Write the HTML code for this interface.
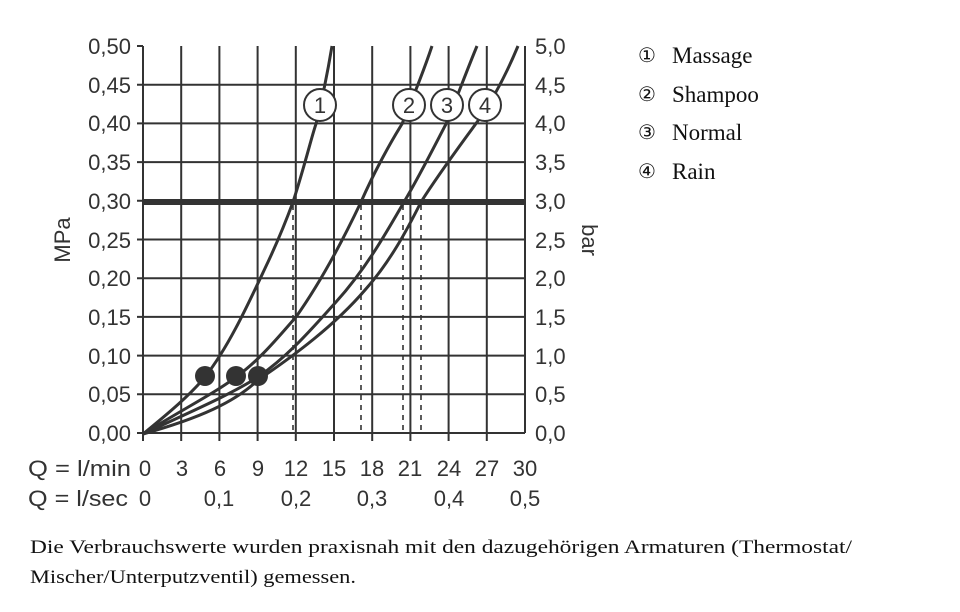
<!DOCTYPE html>
<html><head><meta charset="utf-8"><style>
html,body{margin:0;padding:0;background:#fff;width:960px;height:612px;overflow:hidden}
svg{display:block}
.s{font-family:"Liberation Sans","DejaVu Sans",sans-serif;font-size:22px;fill:#333}
.r{font-family:"Liberation Serif",serif;fill:#111}
</style></head><body>
<svg width="960" height="612" viewBox="0 0 960 612" xmlns="http://www.w3.org/2000/svg">
<g stroke="#333" stroke-width="2" fill="none">
<path d="M181.2 46V441M219.4 46V441M257.6 46V441M295.8 46V441M334 46V441M372.2 46V441M410.4 46V441M448.6 46V441M486.8 46V441"/>
<path d="M137 84.7H525M137 123.4H525M137 162.1H525M137 200.8H525M137 239.5H525M137 278.2H525M137 316.9H525M137 355.6H525M137 394.3H525"/>
<path d="M143 46V441M525 46V433M137 433H525M137 46H143"/>
</g>
<line x1="143" y1="202" x2="525" y2="202" stroke="#333" stroke-width="6"/>
<g stroke="#333" stroke-width="1.6" stroke-dasharray="5,5">
<path d="M293 205V433M361 205V433M403 205V433M421 205V433"/>
</g>
<g stroke="#333" stroke-width="3" fill="none">
<path d="M143 434 C170 412,190 395,205 377 C230 345,250 300,268 262 C282 232,293 202,293 202 C305 165,312 135,316 124 C322 100,328 70,332 46"/>
<path d="M143 434 C185 408,215 393,236 377 C260 360,280 335,296 317 C320 283,343 240,361 202 C375 170,392 140,402 124 C412 100,424 70,432 46"/>
<path d="M143 434 C190 412,230 395,258 377 C290 355,315 325,336 302 C365 270,385 235,404 202 C420 175,435 145,446 124 C456 100,467 70,477 46"/>
<path d="M143 434 C200 418,235 402,258 380 C295 355,335 325,365 290 C390 262,407 230,421 202 C440 172,462 143,480 118 C495 96,508 70,518 46"/>
</g>
<g fill="#333"><circle cx="205" cy="376" r="10"/><circle cx="236" cy="376" r="10"/><circle cx="258" cy="376" r="10"/></g>
<g fill="#fff" stroke="#333" stroke-width="2">
<ellipse cx="320" cy="105" rx="16" ry="16"/><ellipse cx="409" cy="105" rx="16" ry="16"/><ellipse cx="447" cy="105" rx="16" ry="16"/><ellipse cx="485" cy="105" rx="16" ry="16"/>
</g>
<g class="s" text-anchor="middle"><text x="320" y="113">1</text><text x="409" y="113">2</text><text x="447" y="113">3</text><text x="485" y="113">4</text></g>
<g class="s" text-anchor="end">
<text x="131" y="54">0,50</text><text x="131" y="93">0,45</text><text x="131" y="131">0,40</text><text x="131" y="170">0,35</text><text x="131" y="209">0,30</text><text x="131" y="248">0,25</text><text x="131" y="286">0,20</text><text x="131" y="325">0,15</text><text x="131" y="364">0,10</text><text x="131" y="402">0,05</text><text x="131" y="441">0,00</text>
</g>
<g class="s">
<text x="535" y="54">5,0</text><text x="535" y="93">4,5</text><text x="535" y="131">4,0</text><text x="535" y="170">3,5</text><text x="535" y="209">3,0</text><text x="535" y="248">2,5</text><text x="535" y="286">2,0</text><text x="535" y="325">1,5</text><text x="535" y="364">1,0</text><text x="535" y="402">0,5</text><text x="535" y="441">0,0</text>
</g>
<text class="s" transform="translate(70,240) rotate(-90)" text-anchor="middle">MPa</text>
<text class="s" transform="translate(582,240) rotate(90)" text-anchor="middle">bar</text>
<text class="s" x="28" y="476" textLength="103" lengthAdjust="spacingAndGlyphs">Q = l/min</text>
<text class="s" x="28" y="506" textLength="100" lengthAdjust="spacingAndGlyphs">Q = l/sec</text>
<g class="s" text-anchor="middle">
<text x="145" y="476">0</text><text x="182" y="476">3</text><text x="220" y="476">6</text><text x="258" y="476">9</text><text x="296" y="476">12</text><text x="334" y="476">15</text><text x="372" y="476">18</text><text x="410" y="476">21</text><text x="449" y="476">24</text><text x="487" y="476">27</text><text x="525" y="476">30</text>
<text x="145" y="506">0</text><text x="219" y="506">0,1</text><text x="296" y="506">0,2</text><text x="372" y="506">0,3</text><text x="449" y="506">0,4</text><text x="525" y="506">0,5</text>
</g>
<g class="r" font-size="20">
<text x="638" y="62">①</text><text x="638" y="101">②</text><text x="638" y="139">③</text><text x="638" y="178">④</text>
</g>
<g class="r" font-size="23">
<text x="672" y="63">Massage</text><text x="672" y="102">Shampoo</text><text x="672" y="140">Normal</text><text x="672" y="179">Rain</text>
</g>
<g class="r" font-size="19">
<text x="30" y="553" textLength="822" lengthAdjust="spacingAndGlyphs">Die Verbrauchswerte wurden praxisnah mit den dazugehörigen Armaturen (Thermostat/</text>
<text x="30" y="583" textLength="326" lengthAdjust="spacingAndGlyphs">Mischer/Unterputzventil) gemessen.</text>
</g>
</svg>
</body></html>
